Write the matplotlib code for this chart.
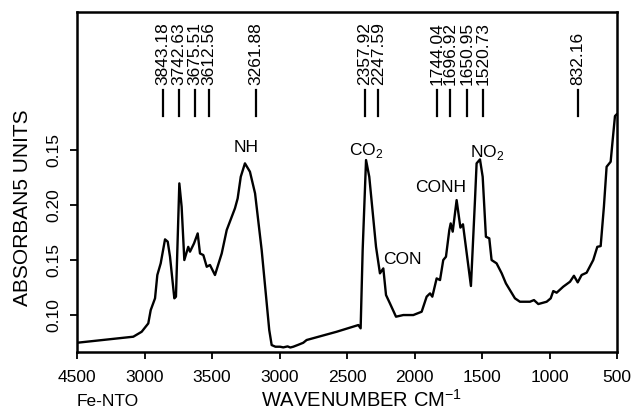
import matplotlib
matplotlib.use("Agg")
import matplotlib.pyplot as plt
import matplotlib.transforms as mtransforms

plt.rcParams['font.family'] = ['Liberation Sans', 'DejaVu Sans']
plt.rcParams['mathtext.fontset'] = 'custom'
plt.rcParams['mathtext.rm'] = 'Liberation Sans'

# ---- spectrum (wavenumber, absorbance) ----
wavenumber = [4500, 4083, 4021, 3972, 3954, 3922, 3905, 3880, 3848, 3828, 3811, 3779, 3767,
              3742, 3725, 3705, 3676, 3663, 3633, 3606, 3589, 3564, 3539, 3515, 3478, 3428,
              3391, 3330, 3310, 3287, 3256, 3219, 3181, 3132, 3076, 3058, 3030, 2996, 2972,
              2940, 2920, 2898, 2860, 2824, 2799, 2577, 2416, 2399, 2384, 2359, 2335, 2285,
              2256, 2231, 2211, 2182, 2137, 2083, 2009, 1947, 1910, 1885, 1868, 1836, 1811,
              1787, 1767, 1742, 1732, 1717, 1688, 1660, 1641, 1582, 1552, 1540, 1515, 1495,
              1471, 1446, 1429, 1392, 1354, 1323, 1293, 1256, 1219, 1145, 1115, 1083, 1021,
              991, 972, 947, 898, 848, 819, 791, 762, 725, 676, 646, 621, 597, 577, 547, 532,
              515, 503]
absorbance = [0.0748, 0.0803, 0.0848, 0.0924, 0.1045, 0.1152, 0.1364, 0.1470, 0.1688, 0.1667,
              0.1530, 0.1152, 0.1167, 0.2197, 0.1985, 0.1500, 0.1620, 0.1576, 0.1652, 0.1742,
              0.1560, 0.1545, 0.1439, 0.1455, 0.1364, 0.1560, 0.1773, 0.1970, 0.2060, 0.2257,
              0.2379, 0.2303, 0.2106, 0.1590, 0.0864, 0.0727, 0.0712, 0.0712, 0.0706, 0.0715,
              0.0705, 0.0712, 0.0730, 0.0748, 0.0773, 0.0848, 0.0909, 0.0879, 0.1590, 0.2409,
              0.2257, 0.1620, 0.1379, 0.1424, 0.1182, 0.1106, 0.0985, 0.1000, 0.1000, 0.1030,
              0.1167, 0.1197, 0.1167, 0.1333, 0.1318, 0.1500, 0.1530, 0.1773, 0.1833, 0.1758,
              0.2045, 0.1795, 0.1825, 0.1264, 0.2045, 0.2379, 0.2415, 0.2257, 0.1712, 0.1697,
              0.1500, 0.1470, 0.1379, 0.1288, 0.1227, 0.1152, 0.1121, 0.1121, 0.1136, 0.1100,
              0.1121, 0.1152, 0.1218, 0.1203, 0.1258, 0.1303, 0.1357, 0.1297, 0.1364, 0.1385,
              0.1500, 0.1620, 0.1627, 0.1985, 0.2348, 0.2394, 0.2591, 0.2809, 0.2824]

# peak marker labels and where their marks sit (wavenumber)
peak_labels = ['3843.18', '3742.63', '3675.51', '3612.56', '3261.88', '2357.92', '2247.59',
               '1744.04', '1696.92', '1650.95', '1520.73', '832.16']
peak_marks = [3865, 3742, 3626, 3522, 3174, 2367, 2268, 1831, 1737, 1613, 1490, 789]

# axis ticks (labels as printed in the original)
x_ticks = [4500, 4000, 3500, 3000, 2500, 2000, 1500, 1000, 500]
x_tick_labels = ['4500', '3000', '3500', '3000', '2500', '2000', '1500', '1000', '500']
y_ticks = [0.10, 0.15, 0.20, 0.25]
y_tick_labels = ['0.10', '0.15', '0.20', '0.15']

W, H = 634, 412
fig = plt.figure(figsize=(W / 100, H / 100), dpi=100)
L, R, T, B = 77, 617, 12, 352
ax = fig.add_axes([L / W, 1 - B / H, (R - L) / W, (B - T) / H])

ax.plot(wavenumber, absorbance, color='black', lw=1.7, solid_joinstyle='round')
ax.set_xlim(4500, 500)
ax.set_ylim(0.0664, 0.3755)

ax.set_xticks(x_ticks)
ax.set_xticklabels(x_tick_labels, fontsize=12.5)
ax.set_yticks(y_ticks)
ax.set_yticklabels(y_tick_labels, fontsize=12.5, rotation=90, va='center')
ax.tick_params(direction='out', length=5, width=1.3, pad=6)
ax.tick_params(axis='x', pad=8)
for s in ax.spines.values():
    s.set_linewidth(1.8)

ax.set_ylabel('ABSORBAN5 UNITS', fontsize=15, va='center', ha='center')
ax.yaxis.set_label_coords((23 - L) / (R - L), (B - 208) / (B - T))
ax.set_xlabel(r'WAVENUMBER CM$^{\mathregular{-1}}$', fontsize=14.5, va='center', ha='center')
ax.xaxis.set_label_coords((362 - L) / (R - L), (B - 400) / (B - T))

fig.text(L / W, 1 - 401 / H, 'Fe-NTO', fontsize=12.5, ha='left', va='center')

# peak markers
trans = mtransforms.blended_transform_factory(ax.transData, ax.transAxes)
y0 = (B - 116) / (B - T)
y1 = (B - 90) / (B - T)
ytxt = (B - 85) / (B - T)
for lab, wn in zip(peak_labels, peak_marks):
    ax.plot([wn, wn], [y0, y1], color='black', lw=1.6, transform=trans, clip_on=False)
    ax.text(wn, ytxt, lab, rotation=90, ha='center', va='bottom', fontsize=12.5,
            transform=trans)

def ftxt(px, py, s, **kw):
    fig.text(px / W, 1 - py / H, s, ha='center', va='center', fontsize=12.5, **kw)

ftxt(246, 147, 'NH')
ftxt(366, 151, r'CO$_{\mathregular{2}}$')
ftxt(402, 260, 'CON')
ftxt(441, 188, 'CONH')
ftxt(487, 153, r'NO$_{\mathregular{2}}$')

fig.savefig('out.png', dpi=100)
